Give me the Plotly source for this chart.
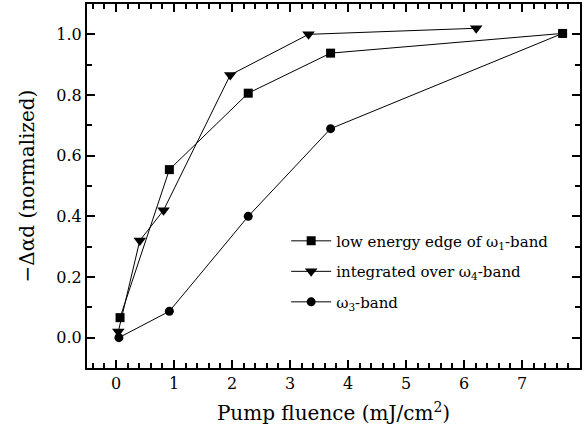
import plotly.graph_objects as go

# Data
sq_x = [0.07, 0.92, 2.28, 3.70, 7.70]
sq_y = [0.066, 0.554, 0.806, 0.938, 1.003]
tri_x = [0.04, 0.41, 0.82, 1.97, 3.32, 6.21]
tri_y = [0.02, 0.32, 0.42, 0.866, 1.0, 1.02]
cir_x = [0.05, 0.92, 2.28, 3.70, 7.70]
cir_y = [0.0, 0.087, 0.40, 0.689, 1.003]

names = ["low energy edge of ω<sub>1</sub>-band",
         "integrated over ω<sub>4</sub>-band",
         "ω<sub>3</sub>-band"]

FONT = "DejaVu Serif"

fig = go.Figure()
fig.add_trace(go.Scatter(x=sq_x, y=sq_y, mode="lines+markers", name=names[0], legendgroup="g1",
                         line=dict(color="black", width=1),
                         marker=dict(symbol="square", size=9, color="black")))
fig.add_trace(go.Scatter(x=tri_x, y=tri_y, mode="lines+markers", name=names[1], legendgroup="g2",
                         line=dict(color="black", width=1),
                         marker=dict(symbol="triangle-down", size=11, color="black")))
fig.add_trace(go.Scatter(x=cir_x, y=cir_y, mode="lines+markers", name=names[2], legendgroup="g3",
                         line=dict(color="black", width=1),
                         marker=dict(symbol="circle", size=9, color="black")))

XR = [-0.5, 8.0]
YR = [-0.1, 1.1]
tick_style = dict(ticks="inside", ticklen=8, tickwidth=2, tickcolor="black",
                  showgrid=False, zeroline=False, showline=True,
                  linecolor="black", linewidth=2)

fig.update_layout(
    width=585, height=445,
    margin=dict(l=87, r=5, t=4, b=77),
    paper_bgcolor="white", plot_bgcolor="white",
    showlegend=True,
    xaxis=dict(range=XR, tickmode="linear", tick0=0, dtick=1,
               tickfont=dict(family=FONT, size=16, color="black"),
               minor=dict(ticks="inside", ticklen=5, tickwidth=1.5, tickcolor="black", dtick=0.2),
               title=dict(text="Pump fluence (mJ/cm<sup>2</sup>)",
                          font=dict(family=FONT, size=20, color="black"), standoff=14),
               **tick_style),
    yaxis=dict(range=YR, tickmode="linear", tick0=0, dtick=0.2, tickformat=".1f",
               tickfont=dict(family=FONT, size=16, color="black"),
               minor=dict(ticks="inside", ticklen=5, tickwidth=1.5, tickcolor="black", dtick=0.1),
               title=dict(text="−Δαd (normalized)",
                          font=dict(family=FONT, size=20, color="black"), standoff=16),
               **tick_style),
    xaxis2=dict(range=XR, overlaying="x", side="top", matches="x",
                tickmode="linear", tick0=0, dtick=1, showticklabels=False,
                minor=dict(ticks="inside", ticklen=5, tickwidth=1.5, tickcolor="black", dtick=0.2),
                **tick_style),
    yaxis2=dict(range=YR, overlaying="y", side="right", matches="y",
                tickmode="linear", tick0=0, dtick=0.2, showticklabels=False,
                minor=dict(ticks="inside", ticklen=5, tickwidth=1.5, tickcolor="black", dtick=0.1),
                **tick_style),
    legend=dict(x=0.404, y=0.394, xanchor="left", yanchor="top",
                bgcolor="rgba(0,0,0,0)", itemwidth=40,
                font=dict(family=FONT, size=15, color="black"),
                traceorder="grouped", tracegroupgap=8),
)
# invisible helper trace so the mirrored axes are drawn
fig.add_trace(go.Scatter(x=[XR[0]], y=[YR[0]], xaxis="x2", yaxis="y2", mode="markers",
                         marker=dict(opacity=0), showlegend=False, hoverinfo="skip"))

fig.write_html("out.html")
